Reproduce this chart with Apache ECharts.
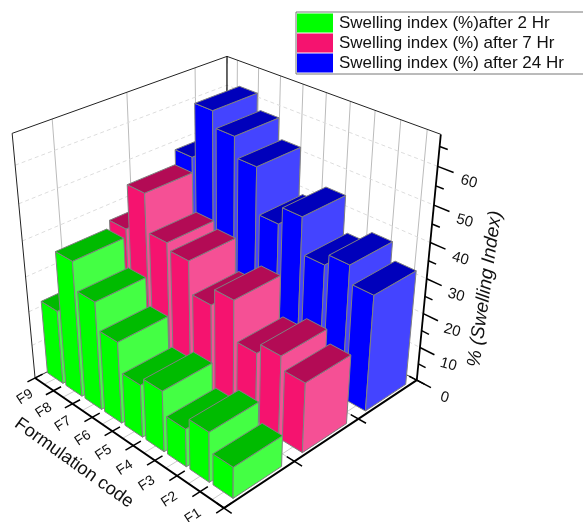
<!DOCTYPE html>
<html>
<head>
<meta charset="utf-8">
<style>
html, body { margin: 0; padding: 0; background: #fff; }
#chart { width: 583px; height: 522px; }
</style>
<script src="https://cdn.jsdelivr.net/npm/echarts@6/dist/echarts.min.js"></script>
</head>
<body>
<div id="chart"></div>
<script>
const categories = ['F1', 'F2', 'F3', 'F4', 'F5', 'F6', 'F7', 'F8', 'F9'];
const seriesNames = ['Swelling index (%)after 2 Hr', 'Swelling index (%) after 7 Hr', 'Swelling index (%) after 24 Hr'];
const after2Hr = [8.9, 14.3, 10.9, 17.5, 15.2, 23.5, 31.1, 38.9, 21.6];
const after7Hr = [20.0, 23.6, 20.6, 31.8, 27.0, 36.0, 37.9, 48.5, 35.7];
const after24Hr = [33.3, 38.2, 35.0, 45.1, 40.2, 53.0, 58.6, 63.0, 47.8];
const valueTicks = [0, 10, 20, 30, 40, 50, 60];
const minorTicks = [5, 15, 25, 35, 45, 55, 65];
const valueMax = 68;

// three point perspective, front floor corner plus the vanishing point of each axis
const origin = [224, 508];
const vanishU = [-1176, -455];
const vanishV = [1702, -472];
const vanishW = [222, 2373];
const weightU = 0.156;
const weightV = 0.15;
const weightW = -0.1263;

const font = '"Liberation Sans", Arial, sans-serif';
// bars sit a bit off centre in their F cell, same as the original plot
const barStartU = 0.11;
const barEndU = 0.95;
const barStartV = 0.16;
const barEndV = 0.85;

function project(u, v, w) {
  const a = weightU * u;
  const b = weightV * v;
  const c = weightW * w;
  const d = 1 + a + b + c;
  return [
    (origin[0] + a * vanishU[0] + b * vanishV[0] + c * vanishW[0]) / d,
    (origin[1] + a * vanishU[1] + b * vanishV[1] + c * vanishW[1]) / d,
  ];
}

function toW(value) {
  return echarts.number.linearMap(value, [0, valueMax], [0, 1]);
}

function line(points, stroke, lineWidth, lineDash) {
  return {
    type: 'polyline',
    silent: true,
    shape: { points },
    style: { stroke, lineWidth, fill: null, lineDash: lineDash || null },
  };
}

function label(text, pos, rotation, size, italic) {
  return {
    type: 'text',
    silent: true,
    x: pos[0],
    y: pos[1],
    rotation,
    style: {
      text,
      fill: '#111',
      font: (italic ? 'italic ' : '') + size + 'px ' + font,
      align: 'center',
      verticalAlign: 'middle',
    },
  };
}

function renderFrame() {
  const children = [];
  const n = categories.length;
  const m = seriesNames.length;
  const grid = '#bbb';
  const dash = '#ddd';

  // walls
  categories.forEach((c, i) => {
    const u = (i + 0.5) / n;
    children.push(line([project(u, 1, 0), project(u, 1, 1)], grid, 1));
    children.push(line([project(u, 0, 0), project(u, 1, 0)], '#ccc', 1));
  });
  seriesNames.forEach((c, s) => {
    const v = (s + 0.5) / m;
    children.push(line([project(1, v, 0), project(1, v, 1)], grid, 1));
    if (s > 0) {
      children.push(line([project(0, s / m, 0), project(1, s / m, 0)], '#ccc', 1));
    }
  });
  valueTicks.slice(1).forEach((t) => {
    const w = toW(t);
    children.push(line([project(1, 0, w), project(1, 1, w), project(0, 1, w)], dash, 1, [4, 3]));
  });

  // box rims
  children.push(line([project(1, 0, 0), project(1, 0, 1), project(1, 1, 1), project(0, 1, 1)], '#222', 1));
  children.push(line([project(1, 1, 0), project(1, 1, 1)], '#000', 1.2));
  children.push(line([project(1, 0, 0), project(1, 1, 0), project(0, 1, 0)], '#333', 1));

  // axes
  children.push(line([project(1, 0, 0), project(0, 0, 0), project(0, 1, 0)], '#000', 2));
  children.push(line([project(0, 1, 0), project(0, 1, 1)], '#000', 1.8));

  for (let i = 0; i <= n; i += 1) {
    children.push(line([project(i / n, -0.035, 0), project(i / n, 0.035, 0)], '#000', 1.5));
  }
  for (let s = 0; s <= m; s += 1) {
    children.push(line([project(-0.035, s / m, 0), project(0.035, s / m, 0)], '#000', 1.5));
  }
  valueTicks.forEach((t) => {
    const w = toW(t);
    children.push(line([project(0, 1, w), project(-0.065, 1, w)], '#000', 1.5));
    children.push(label(String(t), project(-0.128, 1, w - 0.012), -0.27, 15));
  });
  minorTicks.forEach((t) => {
    const w = toW(t);
    children.push(line([project(0, 1, w), project(-0.033, 1, w)], '#000', 1.5));
  });

  categories.forEach((c, i) => {
    children.push(label(c, project((i + 0.5) / n - 0.014, -0.098, 0), 0.58, 14));
  });
  children.push(label('Formulation code', [74, 463], -0.62, 18.3));
  children.push(label('% (Swelling Index)', [485, 289], 1.43, 19, true));

  return { type: 'group', children };
}

function barRenderer(s, colors) {
  return function renderBar(params, api) {
    const i = api.value(0);
    const w = toW(api.value(1));
    const n = categories.length;
    const m = seriesNames.length;
    const u0 = (i + barStartU) / n;
    const u1 = (i + barEndU) / n;
    const v0 = (s + barStartV) / m;
    const v1 = (s + barEndV) / m;
    const edge = { stroke: '#808080', lineWidth: 1 };
    return {
      type: 'group',
      children: [
        {
          type: 'polygon',
          shape: { points: [project(u0, v0, 0), project(u1, v0, 0), project(u1, v0, w), project(u0, v0, w)] },
          style: { fill: colors[0], ...edge },
        },
        {
          type: 'polygon',
          shape: { points: [project(u0, v0, 0), project(u0, v1, 0), project(u0, v1, w), project(u0, v0, w)] },
          style: { fill: colors[1], ...edge },
        },
        {
          type: 'polygon',
          shape: { points: [project(u0, v0, w), project(u0, v1, w), project(u1, v1, w), project(u1, v0, w)] },
          style: { fill: colors[2], ...edge },
        },
      ],
    };
  };
}

// painted back to front, so F9 first and the 24 Hr row first
function barSeries(s, values, colors) {
  const data = values.map((v, i) => [i, v]).reverse();
  return {
    type: 'custom',
    name: seriesNames[s],
    coordinateSystem: 'none',
    renderItem: barRenderer(s, colors),
    itemStyle: { color: colors[0] },
    data,
    silent: true,
    animation: false,
  };
}

const chart = echarts.init(document.getElementById('chart'));
chart.setOption({
  animation: false,
  legend: {
    data: seriesNames,
    orient: 'vertical',
    left: 296,
    top: 12,
    padding: [1, 60, 1, 1],
    itemGap: 0,
    itemWidth: 36,
    itemHeight: 19,
    icon: 'rect',
    borderColor: '#777',
    borderWidth: 1,
    selectedMode: false,
    textStyle: { fontFamily: font, fontSize: 17, color: '#111', lineHeight: 18, padding: [2, 0, 0, 1] },
  },
  series: [
    {
      type: 'custom',
      coordinateSystem: 'none',
      renderItem: renderFrame,
      data: [[0]],
      silent: true,
      animation: false,
    },
    barSeries(2, after24Hr, ['#0000ff', '#4444ff', '#0000bb']),
    barSeries(1, after7Hr, ['#f5136f', '#f55095', '#b30b55']),
    barSeries(0, after2Hr, ['#00ff00', '#44ff44', '#00bb00']),
  ],
});
</script>
</body>
</html>
